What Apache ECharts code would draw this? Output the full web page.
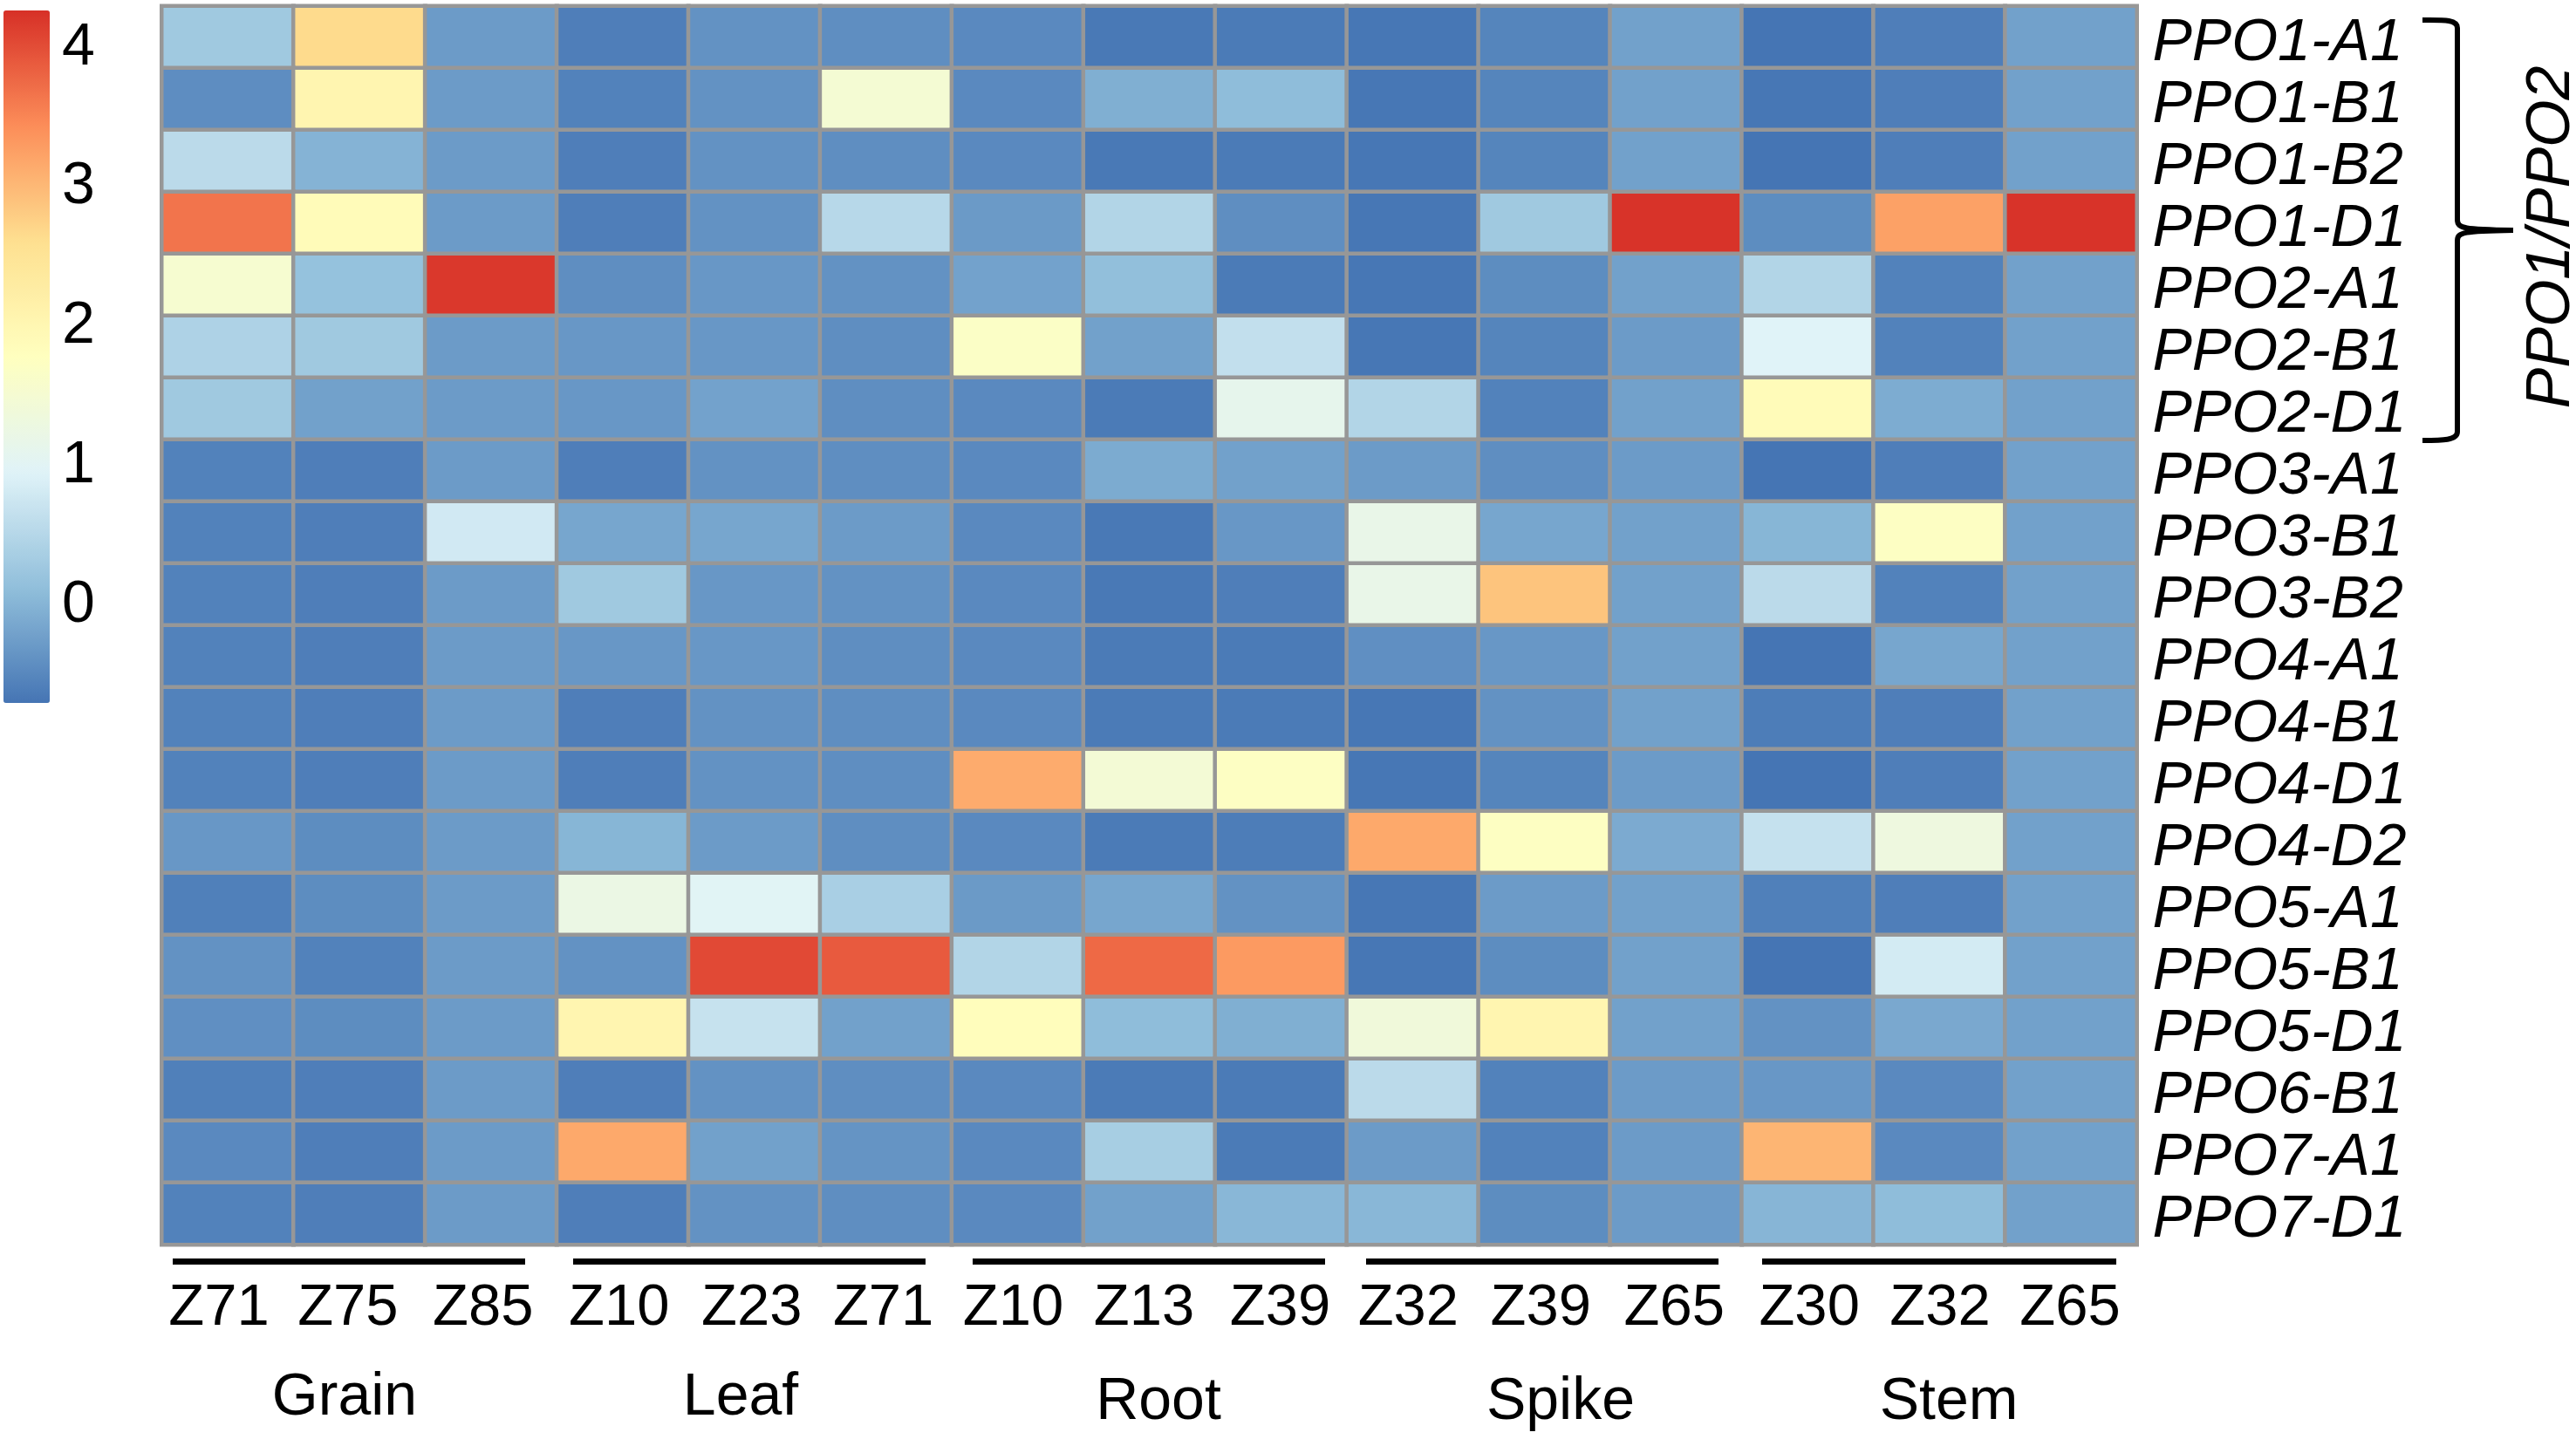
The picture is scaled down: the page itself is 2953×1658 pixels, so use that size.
<!DOCTYPE html>
<html>
<head>
<meta charset="utf-8">
<title>PPO expression heatmap</title>
<style>html,body{margin:0;padding:0;background:#fff}#chart{width:2953px;height:1658px}</style>
<script src="https://cdn.jsdelivr.net/npm/echarts@6/dist/echarts.min.js"></script>
</head>
<body>
<div id="chart"></div>
<script>
const genes = ['PPO1-A1','PPO1-B1','PPO1-B2','PPO1-D1','PPO2-A1','PPO2-B1','PPO2-D1','PPO3-A1','PPO3-B1','PPO3-B2',
  'PPO4-A1','PPO4-B1','PPO4-D1','PPO4-D2','PPO5-A1','PPO5-B1','PPO5-D1','PPO6-B1','PPO7-A1','PPO7-D1'];
const stages = ['Z71','Z75','Z85','Z10','Z23','Z71','Z10','Z13','Z39','Z32','Z39','Z65','Z30','Z32','Z65'];
const tissues = ['Grain','Leaf','Root','Spike','Stem'];
const groupTitle = 'PPO1/PPO2';
const colorTicks = [0,1,2,3,4];
const colorMin = -0.744;
const colorMax = 4.225;
const palette = ['#4575B4','#91BFDB','#E0F3F8','#FFFFBF','#FEE090','#FC8D59','#D73027'];
const expression = [
  [0.24,2.62,-0.32,-0.64,-0.42,-0.46,-0.52,-0.70,-0.68,-0.72,-0.57,-0.25,-0.74,-0.64,-0.25],
  [-0.47,2.00,-0.32,-0.60,-0.42,1.45,-0.52,-0.10,0.06,-0.72,-0.57,-0.25,-0.72,-0.64,-0.25],
  [0.52,-0.05,-0.32,-0.64,-0.42,-0.46,-0.52,-0.70,-0.68,-0.72,-0.57,-0.25,-0.74,-0.64,-0.25],
  [3.62,1.85,-0.32,-0.64,-0.42,0.48,-0.33,0.43,-0.46,-0.72,0.24,4.20,-0.48,3.20,4.20],
  [1.50,0.13,4.15,-0.46,-0.36,-0.42,-0.24,0.09,-0.68,-0.72,-0.48,-0.25,0.43,-0.60,-0.25],
  [0.39,0.24,-0.32,-0.36,-0.36,-0.46,1.64,-0.25,0.60,-0.72,-0.57,-0.32,0.91,-0.60,-0.25],
  [0.24,-0.25,-0.32,-0.36,-0.24,-0.46,-0.52,-0.68,1.08,0.43,-0.60,-0.25,1.85,-0.13,-0.25],
  [-0.60,-0.64,-0.32,-0.64,-0.42,-0.46,-0.52,-0.14,-0.25,-0.32,-0.46,-0.32,-0.74,-0.64,-0.25],
  [-0.60,-0.64,0.76,-0.20,-0.20,-0.32,-0.52,-0.70,-0.36,1.15,-0.20,-0.25,-0.02,1.68,-0.25],
  [-0.60,-0.64,-0.32,0.24,-0.36,-0.42,-0.52,-0.70,-0.64,1.15,2.85,-0.25,0.52,-0.60,-0.25],
  [-0.60,-0.64,-0.32,-0.36,-0.36,-0.46,-0.52,-0.68,-0.68,-0.45,-0.36,-0.25,-0.74,-0.20,-0.25],
  [-0.60,-0.64,-0.32,-0.64,-0.42,-0.46,-0.52,-0.68,-0.68,-0.72,-0.42,-0.25,-0.66,-0.64,-0.25],
  [-0.60,-0.64,-0.32,-0.64,-0.42,-0.46,3.10,1.42,1.68,-0.72,-0.57,-0.32,-0.74,-0.64,-0.25],
  [-0.36,-0.48,-0.32,-0.02,-0.32,-0.46,-0.52,-0.68,-0.66,3.12,1.70,-0.15,0.63,1.28,-0.25],
  [-0.62,-0.48,-0.32,1.20,0.95,0.34,-0.33,-0.20,-0.42,-0.72,-0.32,-0.25,-0.62,-0.64,-0.25],
  [-0.42,-0.60,-0.32,-0.42,4.00,3.85,0.43,3.72,3.27,-0.72,-0.48,-0.25,-0.74,0.78,-0.25],
  [-0.45,-0.48,-0.32,2.00,0.64,-0.25,1.80,0.06,-0.10,1.35,2.00,-0.25,-0.42,-0.17,-0.25],
  [-0.62,-0.64,-0.32,-0.64,-0.42,-0.46,-0.52,-0.68,-0.68,0.52,-0.60,-0.32,-0.36,-0.52,-0.25],
  [-0.52,-0.64,-0.32,3.12,-0.25,-0.40,-0.52,0.32,-0.68,-0.32,-0.60,-0.32,3.00,-0.52,-0.25],
  [-0.60,-0.64,-0.32,-0.64,-0.42,-0.46,-0.52,-0.25,0.00,0.00,-0.48,-0.32,-0.03,0.06,-0.25]
];

const cells = [];
expression.forEach((row, r) => row.forEach((v, c) => cells.push([c, r, v])));

const FONT = '"Liberation Sans", Arial, sans-serif';
const tissueBars = [[198,602],[657,1061],[1115,1519],[1566,1970],[2020,2426]];
const tissueSpots = [[395,1603],[849,1603],[1328,1608],[1789,1608],[2234,1608]];
// how far each stage label sits left of its column centre in the source figure
const stageNudge = [10,13,9,4,3,3,5,6,1,5,4,2,-2,-1,1];
const stageItems = stages.map((s, i) => {
  const n = stageNudge[i];
  return {value: s, textStyle: {padding: [0, n > 0 ? 2 * n : 0, 0, n < 0 ? -2 * n : 0]}};
});

const annotations = [];
tissueBars.forEach(b => annotations.push({
  type: 'rect', silent: true, shape: {x: b[0], y: 1443, width: b[1] - b[0], height: 7}, style: {fill: '#000'}
}));
tissues.forEach((t, i) => annotations.push({
  type: 'text', silent: true, x: tissueSpots[i][0], y: tissueSpots[i][1],
  style: {text: t, fill: '#000', font: '68px ' + FONT, textAlign: 'center', textVerticalAlign: 'middle'}
}));
const bracketStyle = {fill: 'none', stroke: '#000', lineWidth: 6};
[
  {x1:2777,y1:23,cpx1:2800,cpy1:23,cpx2:2817,cpy2:22,x2:2817,y2:32},
  {x1:2817,y1:252,cpx1:2817,cpy1:262,cpx2:2825,cpy2:263,x2:2881,y2:264},
  {x1:2881,y1:264,cpx1:2825,cpy1:265,cpx2:2817,cpy2:266,x2:2817,y2:276},
  {x1:2817,y1:495,cpx1:2817,cpy1:505,cpx2:2800,cpy2:505,x2:2777,y2:505}
].forEach(s => annotations.push({type: 'bezierCurve', silent: true, shape: s, style: bracketStyle}));
[
  {x1:2817,y1:32,x2:2817,y2:252},
  {x1:2817,y1:276,x2:2817,y2:495}
].forEach(s => annotations.push({type: 'line', silent: true, shape: s, style: bracketStyle}));
annotations.push({
  type: 'text', silent: true, x: 2926, y: 272, rotation: Math.PI / 2,
  style: {text: groupTitle, fill: '#000', font: 'italic 70px ' + FONT, textAlign: 'center', textVerticalAlign: 'middle'}
});

const chart = echarts.init(document.getElementById('chart'), null, {width: 2953, height: 1658, renderer: 'canvas', devicePixelRatio: 1});
chart.setOption({
  backgroundColor: '#fff',
  animation: false,
  grid: [
    {left: 185.5, top: 7, width: 2264, height: 1420},
    {left: 4, top: 12, width: 53, height: 794}
  ],
  xAxis: [
    {type: 'category', gridIndex: 0, data: stageItems, position: 'bottom',
     axisLine: {show: false}, axisTick: {show: false}, splitLine: {show: false},
     axisLabel: {interval: 0, color: '#000', fontFamily: FONT, fontSize: 67, margin: 40, hideOverlap: false}},
    {type: 'value', gridIndex: 1, show: false, min: 0, max: 1}
  ],
  yAxis: [
    {type: 'category', gridIndex: 0, data: genes, inverse: true, position: 'right',
     axisLine: {show: false}, axisTick: {show: false}, splitLine: {show: false},
     axisLabel: {interval: 0, color: '#000', fontFamily: FONT, fontStyle: 'italic', fontSize: 68, margin: 18, hideOverlap: false, verticalAlign: 'top', lineHeight: 15}},
    {type: 'value', gridIndex: 1, min: colorMin, max: colorMax, position: 'right',
     axisLine: {show: false}, axisTick: {show: false}, splitLine: {show: false},
     axisLabel: {customValues: colorTicks, color: '#000', fontFamily: FONT, fontSize: 68, margin: 14, verticalAlign: 'top', lineHeight: 14}}
  ],
  visualMap: {
    type: 'continuous', seriesIndex: 0, dimension: 2,
    min: colorMin, max: colorMax, calculable: false, realtime: false, hoverLink: false,
    orient: 'vertical', left: 4, top: 12, itemWidth: 53, itemHeight: 794, padding: 0,
    text: null, showLabel: false,
    inRange: {color: palette}
  },
  series: [{
    type: 'heatmap', xAxisIndex: 0, yAxisIndex: 0, data: cells,
    progressive: 0, silent: true,
    itemStyle: {borderColor: '#979797', borderWidth: 4.5},
    emphasis: {disabled: true}
  }],
  graphic: annotations
});
</script>
</body>
</html>
